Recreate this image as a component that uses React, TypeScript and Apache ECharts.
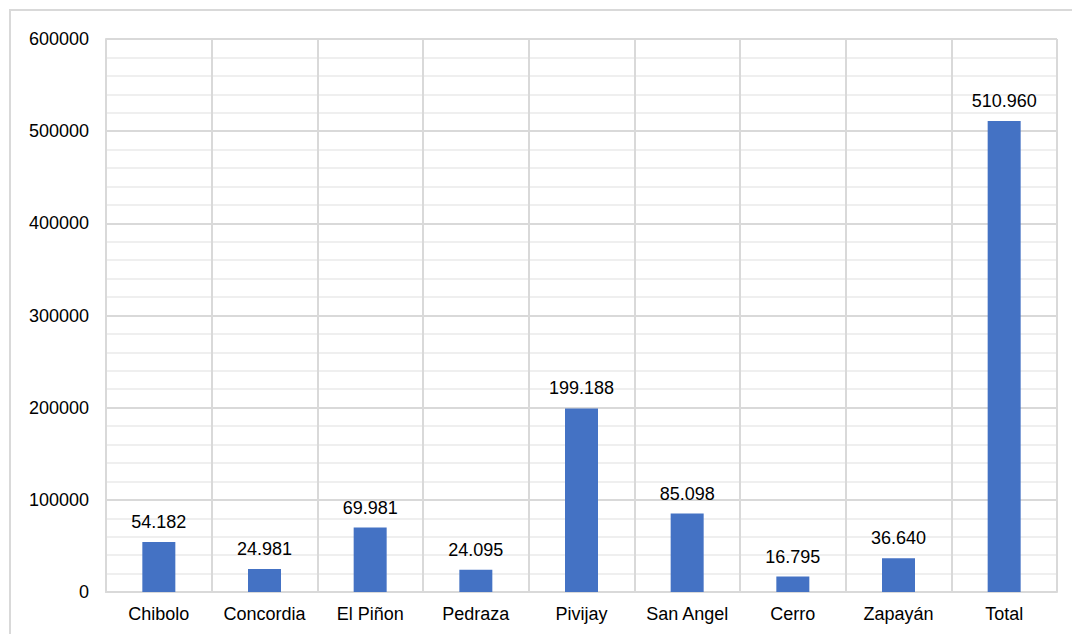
import React, { useEffect, useRef } from "react";
import * as echarts from "echarts";

const categories = ["Chibolo", "Concordia", "El Piñon", "Pedraza", "Pivijay", "San Angel", "Cerro", "Zapayán", "Total"];
const values = [54182, 24981, 69981, 24095, 199188, 85098, 16795, 36640, 510960];
const yTicks = { min: 0, max: 600000, interval: 100000 };

const fmt = (v: number) => {
  const s = Math.round(v).toString();
  return s.replace(/\B(?=(\d{3})+(?!\d))/g, ".");
};

export default function App() {
  const ref = useRef<HTMLDivElement>(null);
  useEffect(() => {
    if (!ref.current) return;
    const chart = echarts.init(ref.current, undefined, { renderer: "svg" });
    const font = "Liberation Sans, Arial, sans-serif";
    chart.setOption({
      animation: false,
      backgroundColor: "#ffffff",
      textStyle: { fontFamily: font },
      graphic: [
        {
          type: "rect",
          shape: { x: 10, y: 10, width: 1080, height: 640 },
          style: { fill: "none", stroke: "#d9d9d9", lineWidth: 2 },
          silent: true,
        },
      ],
      grid: { left: 106, top: 39, right: 15, bottom: 42, containLabel: false },
      xAxis: {
        type: "category",
        data: categories,
        boundaryGap: true,
        axisLine: { show: true, lineStyle: { color: "#d9d9d9", width: 2 } },
        axisTick: { show: false },
        splitLine: { show: true, interval: 0, lineStyle: { color: "#d9d9d9", width: 2 } },
        axisLabel: { color: "#000", fontSize: 18, fontFamily: font, margin: 13, interval: 0 },
      },
      yAxis: {
        type: "value",
        min: yTicks.min,
        max: yTicks.max,
        interval: yTicks.interval,
        axisLine: { show: true, lineStyle: { color: "#d9d9d9", width: 2 } },
        axisTick: { show: false },
        axisLabel: {
          color: "#000",
          fontSize: 18,
          fontFamily: font,
          margin: 17,
          formatter: (v: number) => String(v),
        },
        splitLine: { show: true, lineStyle: { color: "#d9d9d9", width: 2 } },
        minorTick: { show: false, splitNumber: 5 },
        minorSplitLine: { show: true, lineStyle: { color: "#efefef", width: 2 } },
      },
      series: [
        {
          type: "bar",
          data: values,
          barWidth: 33,
          itemStyle: { color: "#4472C4" },
          label: {
            show: true,
            position: "top",
            distance: 11,
            color: "#000",
            fontSize: 18,
            fontFamily: font,
            formatter: (p: any) => fmt(p.value),
          },
        },
      ],
    });
    return () => chart.dispose();
  }, []);
  return (
    <div
      ref={ref}
      style={{ position: "fixed", left: 0, top: 0, width: 1072, height: 634, background: "#fff" }}
    />
  );
}
